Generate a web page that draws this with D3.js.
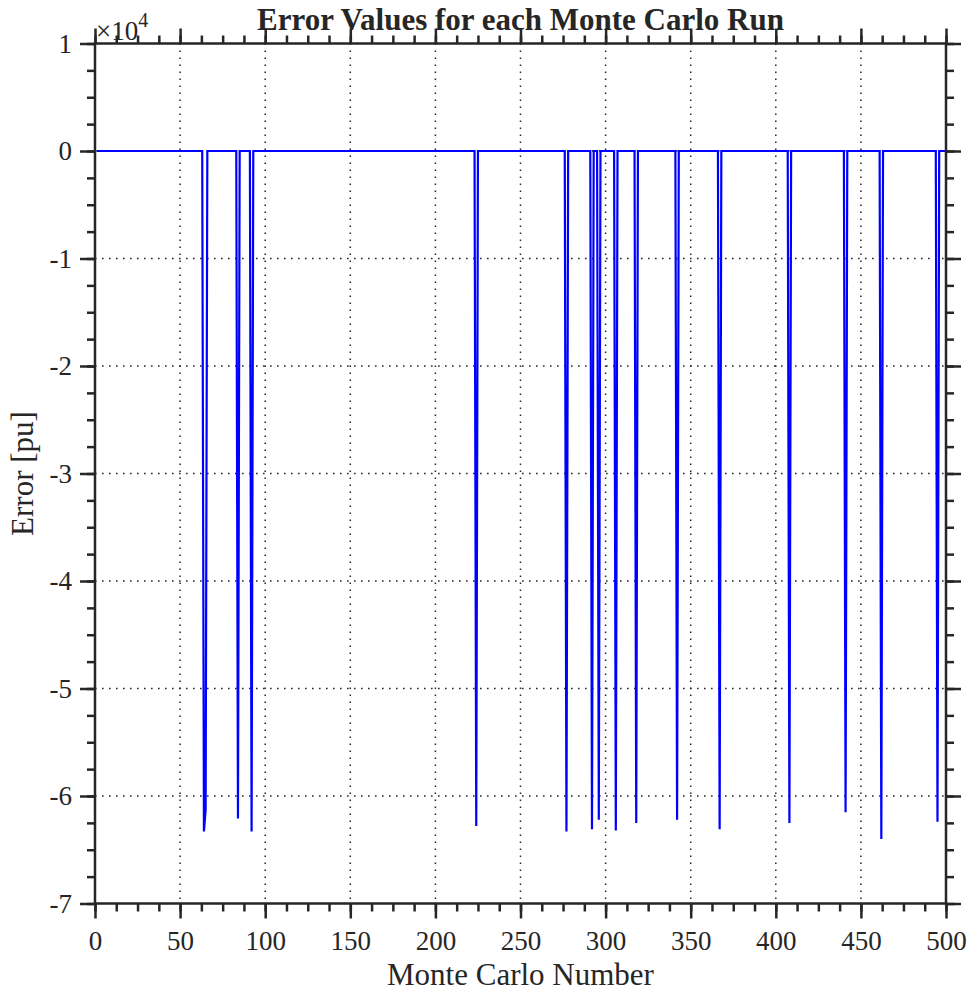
<!DOCTYPE html>
<html>
<head>
<meta charset="utf-8">
<script src="https://cdn.jsdelivr.net/npm/d3@7"></script>
<style>
  html, body { margin: 0; padding: 0; background: #fff; overflow: hidden; }
  svg { display: block; }
  text { font-family: "Liberation Serif", "Times New Roman", serif; fill: #262626; }
</style>
</head>
<body>
<svg></svg>
<script>
// Data: error is zero on every run except these spikes
const runCount = 500;
const spikeRuns = [64, 65, 84, 92, 224, 277, 292, 296, 306, 318, 342, 367, 408, 441, 462, 495];
const spikeErrors = [-63300, -61300, -62100, -63300, -62800, -63300, -63100, -62200,
                     -63200, -62500, -62200, -63100, -62500, -61500, -64000, -62400];
const xTicks = [0, 50, 100, 150, 200, 250, 300, 350, 400, 450, 500];
const yTicks = [10000, 0, -10000, -20000, -30000, -40000, -50000, -60000, -70000];
const xMinorTicks = d3.range(0, 500.1, 12.5);
const yMinorTicks = d3.range(-70000, 10001, 2500);

const width = 968, height = 994;
const margin = { top: 43.5, right: 22, bottom: 90.5, left: 95 };
const innerWidth = width - margin.left - margin.right;
const innerHeight = height - margin.top - margin.bottom;
const axisColor = "#262626";

const svg = d3.select("svg").attr("width", width).attr("height", height);
const g = svg.append("g").attr("transform", `translate(${margin.left},${margin.top})`);

// Scales
const xScale = d3.scaleLinear().domain([0, 500]).range([0, innerWidth]);
const yScale = d3.scaleLinear().domain([-70000, 10000]).range([innerHeight, 0]);

// Series
const spikeMap = new Map(spikeRuns.map((r, i) => [r, spikeErrors[i]]));
const series = d3.range(1, runCount + 1).map(r => ({ run: r, err: spikeMap.has(r) ? spikeMap.get(r) : 0 }));

// Grid (dotted)
const gridStyle = sel => sel.attr("stroke", "#262626").attr("stroke-width", 1.5)
  .attr("stroke-dasharray", "1.6,5.4");
g.append("g").selectAll("line")
  .data(xTicks.slice(1, -1)).enter().append("line")
  .attr("x1", d => xScale(d)).attr("x2", d => xScale(d))
  .attr("y1", 0).attr("y2", innerHeight)
  .call(gridStyle);
g.append("g").selectAll("line")
  .data(yTicks.slice(1, -1)).enter().append("line")
  .attr("x1", 0).attr("x2", innerWidth)
  .attr("y1", d => yScale(d)).attr("y2", d => yScale(d))
  .call(gridStyle);

// Data line
const line = d3.line().x(d => xScale(d.run)).y(d => yScale(d.err));
g.append("path")
  .datum(series)
  .attr("fill", "none")
  .attr("stroke", "#0000ff")
  .attr("stroke-width", 2.2)
  .attr("d", line);

// Axes: major + minor ticks on all four sides, pointing outward
const fmtY = d => String(d / 10000);
const styleAxis = sel => {
  sel.selectAll(".domain").remove();
  sel.selectAll(".tick line").attr("stroke", axisColor).attr("stroke-width", 2.5);
  sel.selectAll(".tick text").attr("font-size", 27).attr("fill", axisColor);
};
const minorAxis = sel => {
  sel.selectAll(".domain").remove();
  sel.selectAll(".tick text").remove();
  sel.selectAll(".tick line").attr("stroke", axisColor).attr("stroke-width", 2.5);
};

g.append("g").attr("transform", `translate(0,${innerHeight})`)
  .call(d3.axisBottom(xScale).tickValues(xTicks).tickSize(15).tickPadding(12).tickFormat(d => String(d)))
  .call(styleAxis);
g.append("g").attr("transform", `translate(0,${innerHeight})`)
  .call(d3.axisBottom(xScale).tickValues(xMinorTicks).tickSize(8))
  .call(minorAxis);
g.append("g")
  .call(d3.axisTop(xScale).tickValues(xTicks).tickSize(15))
  .call(minorAxis);
g.append("g")
  .call(d3.axisTop(xScale).tickValues(xMinorTicks).tickSize(8))
  .call(minorAxis);

g.append("g")
  .call(d3.axisLeft(yScale).tickValues(yTicks).tickSize(15).tickPadding(8).tickFormat(fmtY))
  .call(styleAxis);
g.append("g")
  .call(d3.axisLeft(yScale).tickValues(yMinorTicks).tickSize(8))
  .call(minorAxis);
g.append("g").attr("transform", `translate(${innerWidth},0)`)
  .call(d3.axisRight(yScale).tickValues(yTicks).tickSize(15))
  .call(minorAxis);
g.append("g").attr("transform", `translate(${innerWidth},0)`)
  .call(d3.axisRight(yScale).tickValues(yMinorTicks).tickSize(8))
  .call(minorAxis);

// Box
g.append("rect")
  .attr("width", innerWidth).attr("height", innerHeight)
  .attr("fill", "none").attr("stroke", axisColor).attr("stroke-width", 2.5);

// Exponent label
const expo = g.append("text").attr("x", 1).attr("y", -4).attr("font-size", 27);
expo.append("tspan").text("\u00d710");
expo.append("tspan").attr("dy", -13).attr("font-size", 20).text("4");

// Title and axis labels
svg.append("text")
  .attr("x", margin.left + innerWidth / 2).attr("y", 30)
  .attr("text-anchor", "middle").attr("font-size", 31).attr("font-weight", "bold")
  .attr("fill", "#000")
  .text("Error Values for each Monte Carlo Run");
svg.append("text")
  .attr("x", margin.left + innerWidth / 2).attr("y", 985)
  .attr("text-anchor", "middle").attr("font-size", 31)
  .text("Monte Carlo Number");
svg.append("text")
  .attr("transform", `translate(33,${margin.top + innerHeight / 2}) rotate(-90)`)
  .attr("text-anchor", "middle").attr("font-size", 31)
  .text("Error [pu]");
</script>
</body>
</html>
